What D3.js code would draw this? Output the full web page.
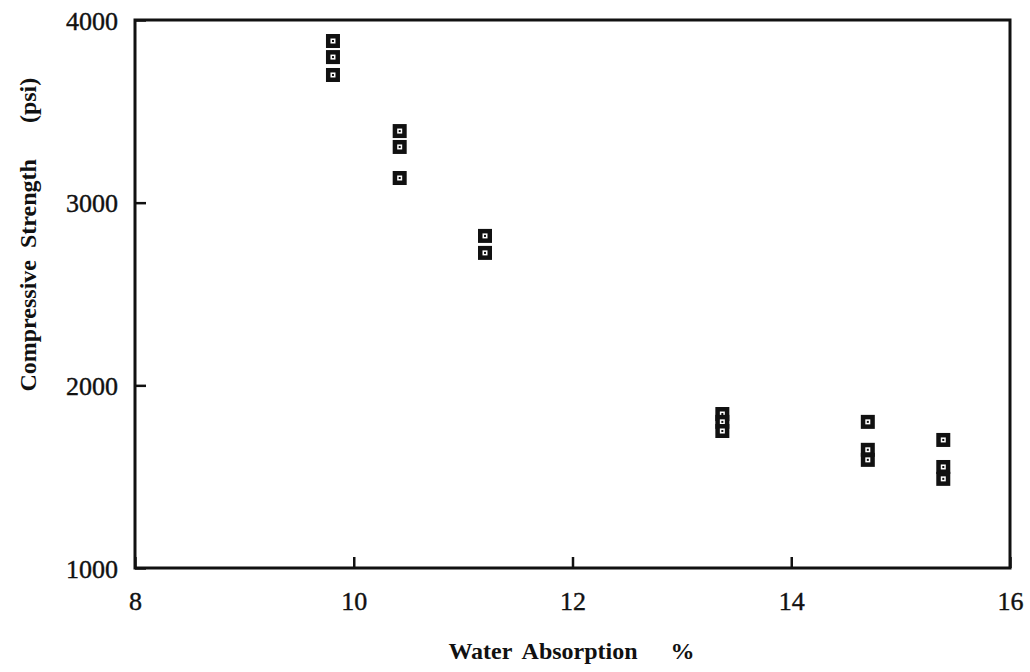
<!DOCTYPE html>
<html>
<head>
<meta charset="utf-8">
<script src="https://cdn.jsdelivr.net/npm/d3@7"></script>
<style>
  body { margin: 0; background: #fff; }
  text { font-family: "Liberation Serif", "DejaVu Serif", serif; fill: #111; }
</style>
</head>
<body>
<div id="chart"></div>
<script>
// water absorption (%) of each specimen and its compressive strength (psi)
const absorption = [9.81, 9.81, 9.81, 10.42, 10.42, 10.42, 11.2, 11.2,
                    13.37, 13.37, 13.37, 14.7, 14.7, 14.7, 15.39, 15.39, 15.39];
const strength = [3885, 3797, 3699, 3392, 3305, 3135, 2818, 2725,
                  1843, 1800, 1750, 1800, 1647, 1592, 1701, 1553, 1488];
const xTicks = [8, 10, 12, 14, 16];
const yTicks = [1000, 2000, 3000, 4000];

const data = absorption.map((x, i) => ({x, y: strength[i]}));

const margin = {top: 20, right: 20, bottom: 104, left: 135},
    width = 1030 - margin.left - margin.right,
    height = 672 - margin.top - margin.bottom;

const xScale = d3.scaleLinear().domain([8, 16]).range([0, width]);
const yScale = d3.scaleLinear().domain([1000, 4000]).range([height, 0]);

const svg = d3.select('#chart')
    .append('svg')
    .attr('width', 1030)
    .attr('height', 672)
    .append('g')
    .attr('transform', `translate(${margin.left}, ${margin.top})`);

// inward ticks, labels outside
const xAxis = svg.append('g')
    .attr('transform', `translate(0, ${height})`)
    .call(d3.axisBottom(xScale).tickValues(xTicks).tickSizeInner(-11).tickSizeOuter(0).tickPadding(24).tickFormat(d3.format('d')));
const yAxis = svg.append('g')
    .call(d3.axisLeft(yScale).tickValues(yTicks).tickSizeInner(-11).tickSizeOuter(0).tickPadding(17).tickFormat(d3.format('d')));

[xAxis, yAxis].forEach(ax => {
    ax.attr('font-family', '"Liberation Serif", serif').attr('font-size', 26);
    ax.select('.domain').remove();
    ax.selectAll('.tick line').attr('stroke', '#111').attr('stroke-width', 2.5);
    ax.selectAll('.tick text')
        .style('font-family', '"Liberation Serif", serif')
        .style('font-size', '26px')
        .attr('fill', '#111')
        .attr('stroke', '#111')
        .attr('stroke-width', 0.4);
});
yAxis.selectAll('.tick text').attr('dy', '0.35em');

svg.append('rect')
    .attr('width', width)
    .attr('height', height)
    .attr('fill', 'none')
    .attr('stroke', '#111')
    .attr('stroke-width', 3);

// square markers: black box with a small hollow centre
const marks = svg.selectAll('.mark')
    .data(data)
    .enter().append('g')
    .attr('class', 'mark')
    .attr('transform', d => `translate(${xScale(d.x)}, ${yScale(d.y)})`);
marks.append('rect').attr('x', -7).attr('y', -7).attr('width', 14).attr('height', 14).attr('fill', '#111');
marks.append('rect').attr('x', -2.5).attr('y', -2.5).attr('width', 5).attr('height', 5).attr('fill', '#fff');
marks.append('rect').attr('x', -1).attr('y', -1).attr('width', 2).attr('height', 2).attr('fill', '#111');

svg.append('text')
    .attr('x', xScale(12) - 1)
    .attr('y', height + 91)
    .attr('text-anchor', 'middle')
    .style('font-size', '24px')
    .style('font-weight', 'bold')
    .style('word-spacing', '5px')
    .text('Water Absorption \u00a0 %');

svg.append('text')
    .attr('transform', 'rotate(-90)')
    .attr('x', -(yScale(3000) + 32))
    .attr('y', 28 - margin.left)
    .attr('dy', '0.35em')
    .attr('text-anchor', 'middle')
    .style('font-size', '24px')
    .style('font-weight', 'bold')
    .style('word-spacing', '6px')
    .text('Compressive Strength \u00a0 (psi)');
</script>
</body>
</html>
